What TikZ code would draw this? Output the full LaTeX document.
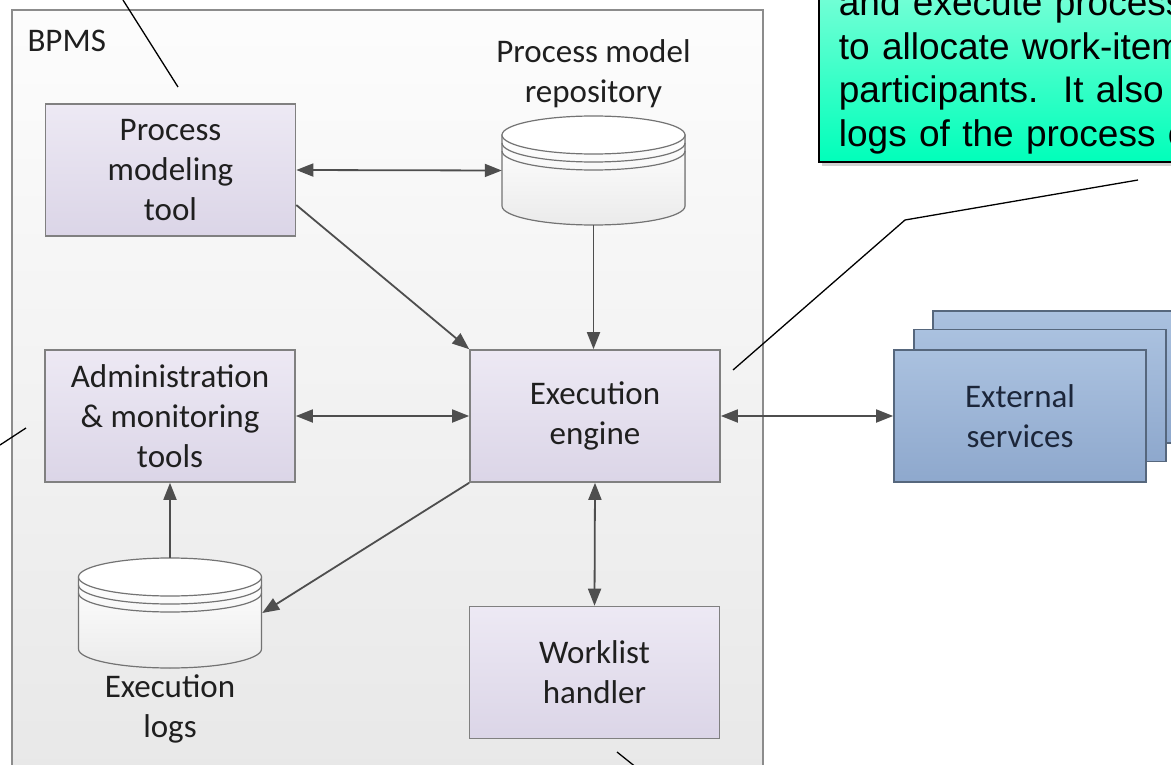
\documentclass[tikz,border=0pt]{standalone}
\usepackage{fontspec}
\setmainfont{Carlito}
\newfontfamily\notefont{Liberation Sans}
\usetikzlibrary{arrows.meta,shadows}
\definecolor{boxtop}{RGB}{237,233,244}
\definecolor{boxbot}{RGB}{219,213,231}
\definecolor{svctop}{RGB}{170,193,223}
\definecolor{svcbot}{RGB}{142,168,205}
\definecolor{svcline}{RGB}{86,103,125}
\definecolor{svctext}{RGB}{28,38,58}
\definecolor{notetop}{RGB}{125,255,216}
\definecolor{notebot}{RGB}{0,255,186}
\definecolor{linkgray}{RGB}{78,78,78}

% data store drum: x, y of top ellipse, y of bottom ellipse
\newcommand\drum[3]{%
  \filldraw[draw=black!55, line width=1.2pt, top color=white, bottom color=black!8]
    (#1-91.5,#2) -- (#1-91.5,#3) arc[start angle=180, end angle=360, x radius=91.5pt, y radius=19pt] -- (#1+91.5,#2) -- cycle;
  \filldraw[draw=black!55, line width=1.2pt, fill=white] (#1,#2) ellipse[x radius=91.5pt, y radius=19pt];
  \draw[black!55, line width=1.2pt] (#1-91.5,#2+8) arc[start angle=180, end angle=360, x radius=91.5pt, y radius=19pt];
  \draw[black!55, line width=1.2pt] (#1-91.5,#2+16) arc[start angle=180, end angle=360, x radius=91.5pt, y radius=19pt];
}

\begin{document}
\begin{tikzpicture}[x=1pt, y=-1pt,
    box/.style={draw=black!50, line width=1.6pt, top color=boxtop, bottom color=boxbot,
      minimum width=250pt, minimum height=132pt, align=center, text=black!88,
      font=\fontsize{33}{40}\selectfont},
    svc/.style={box, draw=svcline, top color=svctop, bottom color=svcbot,
      minimum width=252pt, text=svctext},
    lbl/.style={align=center, text=black!88, font=\fontsize{33}{40}\selectfont},
    link/.style={draw=linkgray, line width=1.8pt, -{Triangle[length=17pt,width=13pt]}},
    twoway/.style={link, {Triangle[length=17pt,width=13pt]}-{Triangle[length=17pt,width=13pt]}},
    note/.style={draw=black, line width=1.8pt, top color=notetop, bottom color=notebot,
      drop shadow={shadow xshift=3pt, shadow yshift=-4pt, opacity=0.35},
      align=left, text width=420pt, inner xsep=20pt, inner ysep=8pt,
      font=\notefont\fontsize{37}{43.5}\selectfont},
    pointer/.style={draw=black, line width=1.3pt}]
  \clip (0,0) rectangle (1171,765);
  \fill[white] (0,0) rectangle (1171,765);

  % system boundary
  \draw[draw=black!45, line width=1.6pt, top color=black!1, bottom color=black!9] (12,10) rectangle (763,775);
  \node[lbl, anchor=base west] (bpms) at (24,52) {BPMS};

  \node[box] (tool) at (170.5,170) {Process\\modeling\\tool};
  \node[box] (admin) at (170,416) {Administration\\\& monitoring\\tools};
  \node[box] (engine) at (595,416) {Execution\\engine};
  \node[box] (worklist) at (594.5,672.5) {Worklist\\handler};

  % data stores
  \drum{593.5}{135}{206}
  \node[minimum width=183pt, minimum height=109pt, inner sep=0pt] (repo) at (593.5,170.5) {};
  \node[lbl] (repolbl) at (593.5,74) {Process model\\repository};
  \drum{170}{577}{649}
  \node[minimum width=184pt, minimum height=110pt, inner sep=0pt] (logs) at (170,613) {};
  \node[lbl] (logslbl) at (170,709) {Execution\\logs};

  % external services
  \node[svc] (ext3) at (1059,377) {};
  \node[svc] (ext2) at (1040,395.5) {};
  \node[svc] (ext) at (1020,416) {External\\services};

  \draw[twoway] (tool.east) -- (repo.west);
  \draw[link] (repo.south) -- (repo.south |- engine.north);
  \draw[link] ([yshift=-35pt]tool.east) -- (engine.north west);
  \draw[twoway] (admin.east) -- (engine.west);
  \draw[twoway] (engine.east) -- (ext.west);
  \draw[link] (engine.south west) -- (logs.east);
  \draw[link] (logs.north) -- (admin.south);
  \draw[twoway] (engine.south) -- (worklist.north);

  % callout
  \node[note, anchor=south west] (note) at (818,163)
    {and execute process\\to allocate work-item\\participants.\ \ It also\\logs of the process e};

  \coordinate (p1) at (1138,180);
  \coordinate (p2) at (905,220);
  \coordinate (p3) at (733,370);
  \draw[pointer] (p1) -- (p2) -- (p3);
  \coordinate (q1) at (123,0);
  \coordinate (q2) at (178,87);
  \draw[pointer] (q1) -- (q2);
  \coordinate (r1) at (0,445);
  \coordinate (r2) at (26,428);
  \draw[pointer] (r1) -- (r2);
  \coordinate (s1) at (617,752);
  \coordinate (s2) at (637,768);
  \draw[pointer] (s1) -- (s2);
\end{tikzpicture}
\end{document}
